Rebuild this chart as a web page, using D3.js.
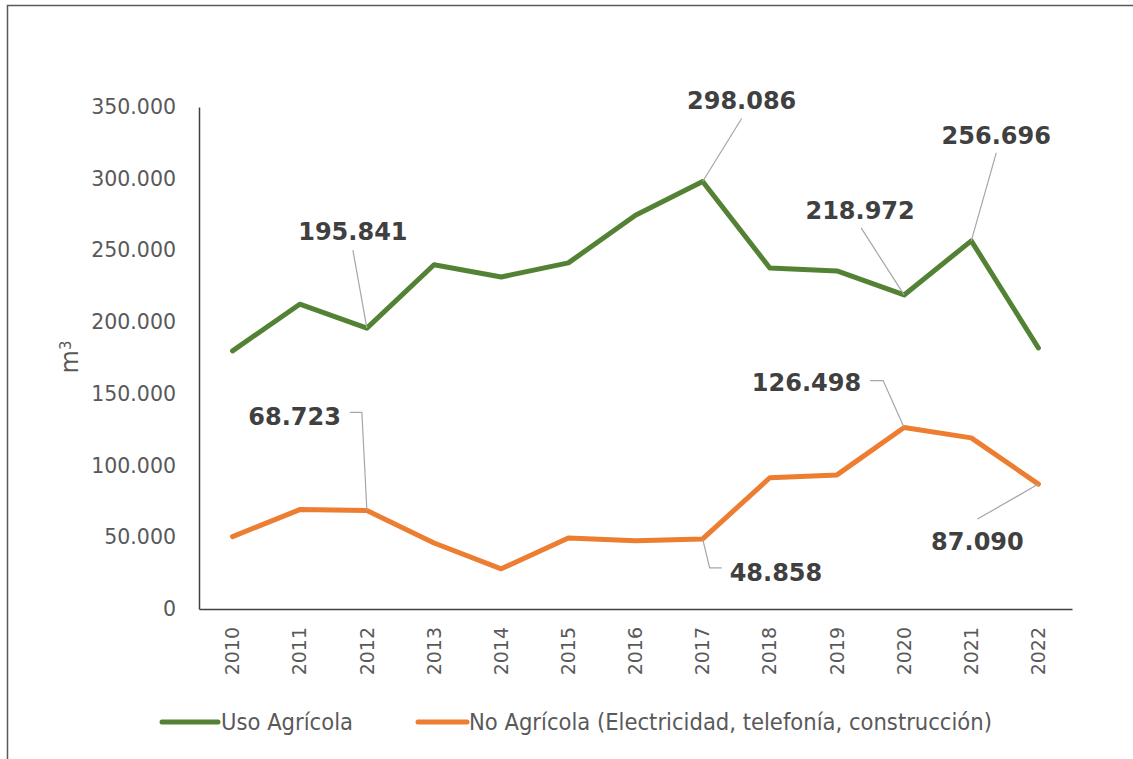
<!DOCTYPE html>
<html>
<head>
<meta charset="utf-8">
<script src="https://cdn.jsdelivr.net/npm/d3@7"></script>
<style>
  body { margin: 0; background: #fff; }
  svg { display: block; }
</style>
</head>
<body>
<div class="chart"></div>
<script>
// data
var years = ["2010", "2011", "2012", "2013", "2014", "2015", "2016", "2017", "2018", "2019", "2020", "2021", "2022"];
var usoAgricola = [180000, 212500, 195841, 240000, 231500, 241300, 274500, 298086, 237800, 235700, 218972, 256696, 182000];
var noAgricola = [50500, 69300, 68723, 46000, 28000, 49500, 47500, 48858, 91500, 93500, 126498, 119300, 87090];
var seriesNames = ["Uso Agrícola", "No Agrícola (Electricidad, telefonía, construcción)"];
var yTicks = [0, 50000, 100000, 150000, 200000, 250000, 300000, 350000];

var width = 1133, height = 759;
var plot = { left: 199, right: 1072, top: 107, bottom: 609 };
var fontMain = "'DejaVu Sans', Verdana, sans-serif";

var svg = d3.select(".chart")
    .append("svg")
    .attr("width", width)
    .attr("height", height);

// outer frame
svg.append("rect")
    .attr("x", 7.5).attr("y", 5.5)
    .attr("width", 1140).attr("height", 770)
    .attr("fill", "none")
    .attr("stroke", "#595959")
    .attr("stroke-width", 1.5);

var es = d3.formatLocale({ decimal: ",", thousands: ".", grouping: [3], currency: ["", ""] });
var fmt = es.format(",d");

var x = d3.scaleBand()
    .domain(years)
    .range([plot.left, plot.right]);

var y = d3.scaleLinear()
    .domain([0, 350000])
    .range([plot.bottom, plot.top]);

var cx = function (i) { return x(years[i]) + x.bandwidth() / 2; };

// axes
var yAxis = d3.axisLeft(y).tickValues(yTicks).tickSize(0).tickPadding(23).tickFormat(fmt);
var gy = svg.append("g")
    .attr("transform", "translate(" + plot.left + ",0)")
    .call(yAxis);
gy.select(".domain").attr("stroke", "#404040").attr("stroke-width", 1.5);
gy.selectAll("text")
    .attr("fill", "#595959")
    .style("font-family", fontMain)
    .style("font-size", "20.5px");

var xAxis = d3.axisBottom(x).tickSize(0).tickPadding(0);
var gx = svg.append("g")
    .attr("transform", "translate(0," + plot.bottom + ")")
    .call(xAxis);
gx.select(".domain").attr("stroke", "#404040").attr("stroke-width", 1.5);
gx.selectAll("text")
    .attr("fill", "#595959")
    .style("font-family", fontMain)
    .style("font-size", "19px")
    .attr("transform", "rotate(-90)")
    .attr("text-anchor", "end")
    .attr("x", -18)
    .attr("y", 0)
    .attr("dy", "0.35em");

// y title m3
svg.append("text")
    .attr("transform", "translate(78,357) rotate(-90)")
    .attr("text-anchor", "middle")
    .attr("fill", "#595959")
    .style("font-family", fontMain)
    .style("font-size", "24px")
    .text("m")
    .append("tspan")
    .attr("dy", "-0.5em")
    .style("font-size", "15px")
    .text("3");

var series = [
    { name: seriesNames[0], values: usoAgricola, color: "#548235" },
    { name: seriesNames[1], values: noAgricola, color: "#ED7D31" }
];

var line = d3.line()
    .x(function (d, i) { return cx(i); })
    .y(function (d) { return y(d); });

svg.selectAll(".serie")
    .data(series)
    .enter()
    .append("path")
    .attr("class", "serie")
    .attr("d", function (d) { return line(d.values); })
    .attr("fill", "none")
    .attr("stroke", function (d) { return d.color; })
    .attr("stroke-width", 5)
    .attr("stroke-linejoin", "round")
    .attr("stroke-linecap", "round");

// data labels with leader lines (offsets relative to the point)
var labels = [
    { s: 0, i: 2, anchor: "middle", dx: -14, dy: -88, leader: [[-14, -78], [0, 0]] },
    { s: 0, i: 7, anchor: "middle", dx: 39, dy: -72, leader: [[39, -63], [0, 0]] },
    { s: 0, i: 10, anchor: "middle", dx: -44, dy: -76, leader: [[-43, -67], [0, 0]] },
    { s: 0, i: 11, anchor: "middle", dx: 25, dy: -97, leader: [[25, -88], [0, 0]] },
    { s: 1, i: 2, anchor: "end", dx: -26, dy: -85, leader: [[-17, -98], [-5, -98], [0, 0]] },
    { s: 1, i: 7, anchor: "start", dx: 27, dy: 42, leader: [[0, 0], [7, 29], [19, 29]] },
    { s: 1, i: 10, anchor: "end", dx: -43, dy: -37, leader: [[-34, -47], [-21, -47], [0, 0]] },
    { s: 1, i: 12, anchor: "middle", dx: -61, dy: 66, leader: [[-61, 35], [0, 0]] }
];

labels.forEach(function (l) {
    var v = series[l.s].values[l.i];
    var px = cx(l.i), py = y(v);
    svg.append("path")
        .attr("d", d3.line()(l.leader.map(function (p) { return [px + p[0], py + p[1]]; })))
        .attr("fill", "none")
        .attr("stroke", "#A6A6A6")
        .attr("stroke-width", 1.2);
    svg.append("text")
        .attr("x", px + l.dx)
        .attr("y", py + l.dy)
        .attr("text-anchor", l.anchor)
        .attr("fill", "#404040")
        .style("font-family", fontMain)
        .style("font-weight", "bold")
        .style("font-size", "24px")
        .text(fmt(v));
});

// legend
var legendPos = [{ x1: 162, x2: 218, tx: 221 }, { x1: 418, x2: 467, tx: 469 }];
var lg = svg.append("g").attr("class", "legend");
series.forEach(function (s, k) {
    var p = legendPos[k];
    lg.append("line")
        .attr("x1", p.x1).attr("x2", p.x2)
        .attr("y1", 722).attr("y2", 722)
        .attr("stroke", s.color)
        .attr("stroke-width", 5)
        .attr("stroke-linecap", "round");
    lg.append("text")
        .attr("x", p.tx)
        .attr("y", 722)
        .attr("dy", "0.35em")
        .attr("fill", "#595959")
        .style("font-family", "'DejaVu Sans Condensed', 'DejaVu Sans', sans-serif")
        .style("font-stretch", "condensed")
        .style("font-size", "23.5px")
        .text(s.name);
});
</script>
</body>
</html>
